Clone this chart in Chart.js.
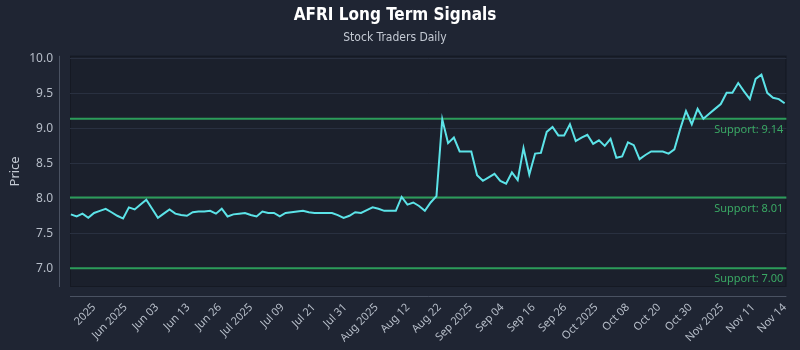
<!DOCTYPE html>
<html>
<head>
<meta charset="utf-8">
<title>AFRI Long Term Signals</title>
<script src="https://cdn.jsdelivr.net/npm/chart.js@4.4.1/dist/chart.umd.min.js"></script>
<style>
  html, body { margin: 0; padding: 0; background: #1f2533; }
  #wrap { width: 800px; height: 350px; position: relative; }
</style>
</head>
<body>
<div id="wrap"><canvas id="grafica"></canvas></div>
<script>
// Precios de cierre diarios (una entrada por sesión)
const precios = [
    7.77, 7.74, 7.78, 7.72, 7.79, 7.82, 7.85, 7.80, 7.75, 7.71,
    7.87, 7.84, 7.91, 7.98, 7.85, 7.72, 7.78, 7.84, 7.78, 7.76,
    7.75, 7.80, 7.81, 7.81, 7.82, 7.78, 7.85, 7.74, 7.77, 7.78,
    7.79, 7.76, 7.74, 7.81, 7.79, 7.79, 7.74, 7.79, 7.80, 7.81,
    7.82, 7.80, 7.79, 7.79, 7.79, 7.79, 7.76, 7.72, 7.75, 7.80,
    7.79, 7.83, 7.87, 7.85, 7.82, 7.82, 7.82, 8.02, 7.91, 7.94,
    7.89, 7.82, 7.94, 8.03, 9.13, 8.79, 8.87, 8.67, 8.67, 8.67,
    8.33, 8.25, 8.30, 8.35, 8.25, 8.21, 8.37, 8.26, 8.72, 8.34,
    8.64, 8.65, 8.95, 9.02, 8.90, 8.90, 9.06, 8.82, 8.87, 8.91,
    8.78, 8.83, 8.75, 8.85, 8.58, 8.60, 8.80, 8.76, 8.56, 8.62,
    8.67, 8.67, 8.67, 8.64, 8.70, 8.99, 9.25, 9.06, 9.28, 9.14,
    9.21, 9.28, 9.35, 9.51, 9.51, 9.65, 9.53, 9.42, 9.71, 9.77,
    9.51, 9.44, 9.42, 9.36
];

// Niveles de soporte
const soportes = [9.14, 8.01, 7.00];

// Etiquetas del eje X
const etiquetasX = [
    "2025", "Jun 2025", "Jun 03", "Jun 13", "Jun 26", "Jul 2025", "Jul 09",
    "Jul 21", "Jul 31", "Aug 2025", "Aug 12", "Aug 22", "Sep 2025", "Sep 04",
    "Sep 16", "Sep 26", "Oct 2025", "Oct 08", "Oct 20", "Oct 30", "Nov 2025",
    "Nov 11", "Nov 14"
];

const ultimo = precios.length - 1;
const primerTick = 4.0;
const pasoTick = (ultimo - primerTick) / (etiquetasX.length - 1);

const colorTexto = '#b7bec9';
const colorEje = '#4a5262';

// Fondo del área de trazado, ejes desplazados y líneas de soporte
const decoracion = {
    id: 'decoracion',
    beforeDraw(chart) {
        const { ctx, chartArea: a } = chart;
        ctx.save();
        ctx.fillStyle = '#1b202c';
        ctx.fillRect(a.left, a.top, a.right - a.left, a.bottom - a.top);
        ctx.strokeStyle = '#151923';
        ctx.lineWidth = 1;
        ctx.strokeRect(a.left + 0.5, a.top + 0.5, a.right - a.left - 1, a.bottom - a.top - 1);

        ctx.strokeStyle = colorEje;
        ctx.beginPath();
        ctx.moveTo(a.left - 10.5, a.top);
        ctx.lineTo(a.left - 10.5, a.bottom);
        ctx.moveTo(a.left, a.bottom + 9.5);
        ctx.lineTo(a.right, a.bottom + 9.5);
        ctx.stroke();
        ctx.restore();
    },
    beforeDatasetsDraw(chart) {
        const { ctx, chartArea: a, scales } = chart;
        ctx.save();
        soportes.forEach(s => {
            const y = scales.y.getPixelForValue(s);
            ctx.strokeStyle = '#2c9c5a';
            ctx.lineWidth = 2;
            ctx.beginPath();
            ctx.moveTo(a.left, y);
            ctx.lineTo(a.right, y);
            ctx.stroke();

            ctx.fillStyle = '#3aa864';
            ctx.font = '11px "Noto Sans", sans-serif';
            ctx.textAlign = 'right';
            ctx.textBaseline = 'middle';
            ctx.fillText('Support: ' + s.toFixed(2), a.right - 3, y + 11);
        });
        ctx.restore();
    }
};

new Chart(document.getElementById('grafica'), {
    type: 'line',
    data: {
        datasets: [{
            label: 'AFRI',
            data: precios.map((p, i) => ({ x: i, y: p })),
            borderColor: '#5ce3e8',
            borderWidth: 2,
            pointRadius: 0,
            tension: 0
        }]
    },
    options: {
        responsive: true,
        maintainAspectRatio: false,
        animation: false,
        layout: { padding: { left: 0, right: 10, top: 0, bottom: 0 } },
        plugins: {
            legend: { display: false },
            tooltip: { enabled: false },
            title: {
                display: true,
                text: 'AFRI Long Term Signals',
                color: '#ffffff',
                font: { family: '"Liberation Sans Narrow", "DejaVu Sans Condensed", sans-serif', size: 17, weight: 'bold' },
                padding: { top: 5, bottom: 4 }
            },
            subtitle: {
                display: true,
                text: 'Stock Traders Daily',
                color: '#c3c9d3',
                font: { family: '"Liberation Sans Narrow", "DejaVu Sans Condensed", sans-serif', size: 12 },
                padding: { top: 1, bottom: 11 }
            }
        },
        scales: {
            x: {
                type: 'linear',
                min: -0.15,
                max: ultimo + 0.3,
                grid: { display: false },
                border: { display: false },
                afterBuildTicks(scale) {
                    scale.ticks = etiquetasX.map((_, i) => ({ value: primerTick + i * pasoTick }));
                },
                afterFit(scale) { scale.height = 63; },
                ticks: {
                    autoSkip: false,
                    maxRotation: 45,
                    minRotation: 45,
                    padding: 6,
                    color: colorTexto,
                    font: { family: '"Noto Sans", sans-serif', size: 11 },
                    callback: (v, i) => etiquetasX[i]
                }
            },
            y: {
                min: 6.73,
                max: 10.04,
                grid: { color: '#293040', lineWidth: 1, drawTicks: false },
                border: { display: false },
                afterFit(scale) { scale.width = 70; },
                title: {
                    display: true,
                    text: 'Price',
                    color: '#c3c9d3',
                    font: { family: '"Noto Sans", sans-serif', size: 13 },
                    padding: { top: 7, bottom: 0 }
                },
                ticks: {
                    stepSize: 0.5,
                    includeBounds: false,
                    padding: 17,
                    color: colorTexto,
                    font: { family: '"Noto Sans", sans-serif', size: 12 },
                    callback: v => v.toFixed(1)
                }
            }
        }
    },
    plugins: [decoracion]
});
</script>
</body>
</html>
